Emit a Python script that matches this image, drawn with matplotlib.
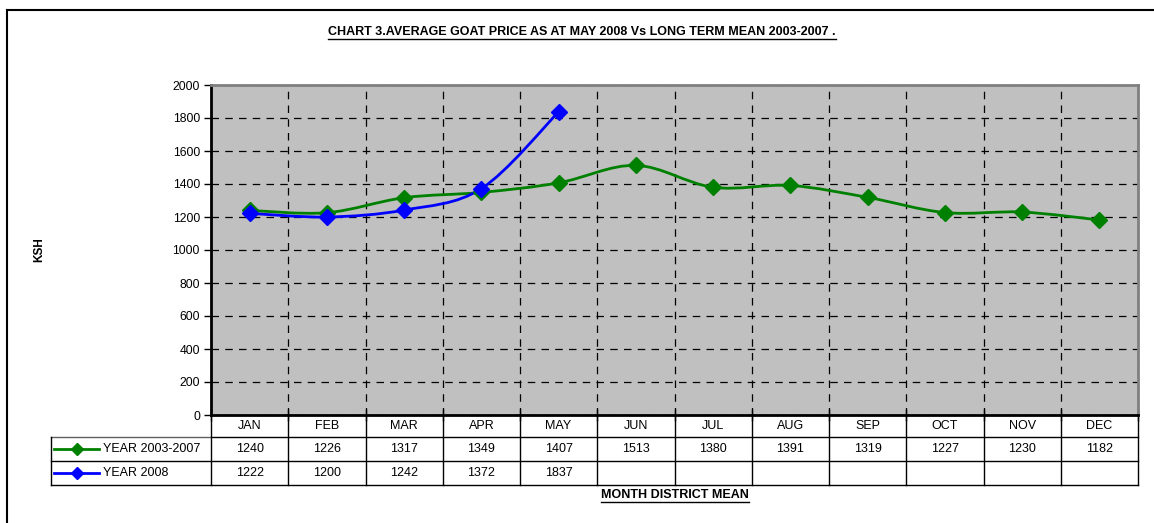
import numpy as np
import matplotlib
matplotlib.use("Agg")
import matplotlib.pyplot as plt
from matplotlib.path import Path
from matplotlib.patches import PathPatch
from matplotlib.lines import Line2D

plt.rcParams['font.family'] = ['Liberation Sans', 'DejaVu Sans']

months = ["JAN", "FEB", "MAR", "APR", "MAY", "JUN", "JUL", "AUG", "SEP", "OCT", "NOV", "DEC"]
mean_0307 = [1240, 1226, 1317, 1349, 1407, 1513, 1380, 1391, 1319, 1227, 1230, 1182]
year_2008 = [1222, 1200, 1242, 1372, 1837]
series_names = ["YEAR 2003-2007", "YEAR 2008"]
series_colors = ["#008000", "#0000FF"]
yticks = [0, 200, 400, 600, 800, 1000, 1200, 1400, 1600, 1800, 2000]

W, H = 1154, 523
fig = plt.figure(figsize=(W / 100, H / 100), dpi=100)
fig.patch.set_facecolor("white")

def fx(px):
    return px / W

def fy(py):
    return 1 - py / H

# outer chart border (runs off image at right/bottom)
fig.add_artist(Line2D([fx(7), 1.0], [fy(10), fy(10)], color="black", lw=1.5))
fig.add_artist(Line2D([fx(7), fx(7)], [fy(10), 0.0], color="black", lw=1.5))

L, R, T, B = 211, 1138, 85, 415
ax = fig.add_axes([fx(L), fy(B), fx(R - L), fy(T) - fy(B)])
ax.set_facecolor("#C0C0C0")
ax.set_xlim(-0.5, len(months) - 0.5)
ax.set_ylim(0, 2000)
ax.set_yticks(yticks)
ax.set_xticks(np.arange(len(months) + 1) - 0.5)
ax.set_xticklabels([])
ax.tick_params(axis="y", direction="out", length=5, width=1, labelsize=8.7, pad=3)
ax.tick_params(axis="x", direction="inout", length=8, width=1)
for s in ["top", "right"]:
    ax.spines[s].set_color("#808080")
    ax.spines[s].set_linewidth(2)
ax.spines["left"].set_linewidth(2)
ax.spines["bottom"].set_linewidth(2)
ax.grid(True, color="black", linestyle=(0, (6, 5)), linewidth=0.9)
ax.set_axisbelow(True)


def smooth_path(xs, ys):
    pts = np.column_stack([xs, ys]).astype(float)
    n = len(pts)
    verts = [pts[0]]
    codes = [Path.MOVETO]
    for i in range(n - 1):
        p0 = pts[i - 1] if i > 0 else pts[i]
        p1 = pts[i]
        p2 = pts[i + 1]
        p3 = pts[i + 2] if i + 2 < n else pts[i + 1]
        c1 = p1 + (p2 - p0) / 6
        c2 = p2 - (p3 - p1) / 6
        verts += [c1, c2, p2]
        codes += [Path.CURVE4] * 3
    return Path(verts, codes)


for vals, col in zip([mean_0307, year_2008], series_colors):
    xs = np.arange(len(vals))
    ax.add_patch(PathPatch(smooth_path(xs, vals), facecolor="none", edgecolor=col, lw=2, zorder=3))
    ax.plot(xs, vals, linestyle="none", marker="D", markersize=8.5, color=col, zorder=4)

ax.set_ylabel("KSH", fontsize=8.5, fontweight="bold", labelpad=0)
ax.yaxis.set_label_coords((45 - L) / (R - L), 0.5)

# data table
cw = (R - L)
def ax_x(px):
    return (px - L) / cw

def ax_y(py):
    return (B - py) / (B - T)

row_y = [415, 437, 461, 485]
tbl = dict(transform=ax.transAxes, clip_on=False, color="black", lw=1)
# horizontal lines
ax.add_artist(Line2D([ax_x(L), ax_x(R)], [ax_y(437)] * 2, **tbl))
ax.add_artist(Line2D([ax_x(51), ax_x(R)], [ax_y(461)] * 2, **tbl))
ax.add_artist(Line2D([ax_x(51), ax_x(R)], [ax_y(485)] * 2, **tbl))
ax.add_artist(Line2D([ax_x(51), ax_x(L)], [ax_y(437)] * 2, color="#606060", lw=1,
                     transform=ax.transAxes, clip_on=False))
# vertical lines
for k in range(len(months) + 1):
    xk = k / len(months)
    ax.add_artist(Line2D([xk, xk], [0, ax_y(485)], **tbl))
ax.add_artist(Line2D([ax_x(51), ax_x(51)], [ax_y(437), ax_y(485)], **tbl))

for k, m in enumerate(months):
    xc = (k + 0.5) / len(months)
    ax.text(xc, ax_y(426), m, transform=ax.transAxes, ha="center", va="center", fontsize=9)
for r, vals in enumerate([mean_0307, year_2008]):
    yc = ax_y((row_y[r + 1] + row_y[r + 2]) / 2)
    for k, v in enumerate(vals):
        ax.text((k + 0.5) / len(months), yc, str(v), transform=ax.transAxes,
                ha="center", va="center", fontsize=9)
    ax.add_artist(Line2D([ax_x(54), ax_x(99)], [yc, yc], color=series_colors[r], lw=2,
                         transform=ax.transAxes, clip_on=False))
    ax.add_artist(Line2D([ax_x(77)], [yc], marker="D", markersize=6.5, color=series_colors[r],
                         transform=ax.transAxes, clip_on=False))
    ax.text(ax_x(103), yc, series_names[r], transform=ax.transAxes, ha="left", va="center",
            fontsize=9)

# underlined bold texts
fig.canvas.draw()
renderer = fig.canvas.get_renderer()


def underlined(x, y, s, size):
    t = fig.text(fx(x), fy(y), s, ha="center", va="center", fontsize=size, fontweight="bold")
    bb = t.get_window_extent(renderer=renderer)
    yl = bb.y0 - 1
    fig.add_artist(Line2D([bb.x0 / W, bb.x1 / W], [yl / H, yl / H], color="black", lw=1))


underlined(582, 32, "CHART 3.AVERAGE GOAT PRICE AS AT MAY 2008 Vs LONG TERM MEAN 2003-2007 .", 9)
underlined(675, 495, "MONTH DISTRICT MEAN", 9)

fig.savefig("out.png", dpi=100)
